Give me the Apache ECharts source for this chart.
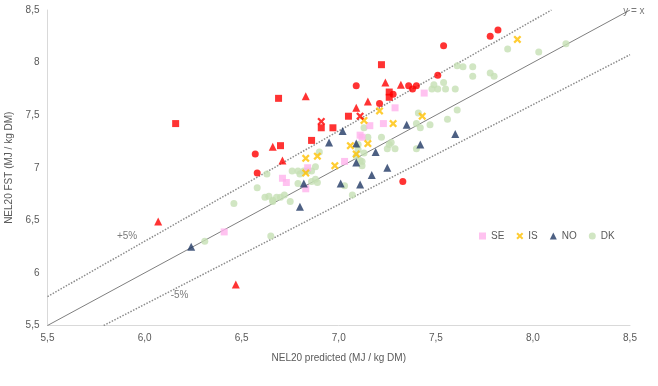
<!DOCTYPE html>
<html><head><meta charset="utf-8">
<script src="https://cdn.jsdelivr.net/npm/echarts@6/dist/echarts.min.js"></script>
<style>html,body{margin:0;padding:0;background:#fff}#c{width:658px;height:386px}</style>
</head><body><div id="c"></div>
<script>
// ---- data (x = NEL20 predicted, y = NEL20 FST) ----
const seData = [[6.41,6.39],[7.44,7.71],[7.29,7.57],[7.16,7.40],[7.23,7.42],[7.11,7.31],[7.12,7.29],[7.03,7.06],[6.84,7.00],[6.71,6.90],[6.73,6.86],[6.83,6.80]];
const isData = [[7.21,7.54],[7.13,7.45],[7.28,7.42],[7.43,7.49],[7.15,7.23],[7.06,7.21],[7.09,7.13],[6.89,7.11],[6.83,7.09],[6.98,7.02],[6.83,6.95],[7.92,8.22]];
const noData = [[6.24,6.25],[7.02,7.35],[6.95,7.24],[7.19,7.15],[7.09,7.23],[7.09,7.05],[7.25,7.00],[7.35,7.41],[7.42,7.22],[7.60,7.32],[7.17,6.93],[7.01,6.85],[7.11,6.84],[6.82,6.85],[6.80,6.63]];
const dkData = [[6.31,6.30],[6.46,6.66],[6.58,6.81],[6.63,6.94],[6.65,6.35],[6.62,6.72],[6.64,6.73],[6.66,6.69],[6.68,6.72],[6.70,6.72],[6.72,6.74],[6.66,6.68],[6.75,6.68],[6.76,6.97],[6.79,6.97],[6.80,6.94],[6.82,6.97],[6.84,6.97],[6.86,6.97],[6.88,7.01],[6.90,7.15],[6.79,6.85],[6.86,6.87],[6.88,6.89],[6.89,6.86],[7.03,6.83],[7.07,6.74],[7.12,7.06],[7.10,7.22],[7.10,7.17],[7.09,7.11],[7.11,7.07],[7.13,7.14],[7.12,7.02],[7.15,7.29],[7.22,7.29],[7.27,7.24],[7.26,7.22],[7.25,7.18],[7.29,7.18],[7.40,7.18],[7.13,7.38],[7.41,7.52],[7.40,7.42],[7.42,7.38],[7.47,7.41],[7.56,7.46],[7.61,7.55],[7.54,7.81],[7.49,7.79],[7.48,7.75],[7.51,7.75],[7.55,7.75],[7.60,7.75],[7.61,7.97],[7.64,7.96],[7.69,7.96],[7.69,7.87],[7.78,7.90],[7.80,7.87],[7.87,8.13],[8.03,8.10],[8.17,8.18]];
const redCircle = [[6.57,7.13],[6.58,6.95],[7.09,7.78],[7.36,7.78],[7.38,7.75],[7.40,7.78],[7.21,7.61],[7.51,7.88],[7.54,8.16],[7.78,8.25],[7.82,8.31],[7.33,6.87],[7.28,7.70]];
const redSquare = [[6.16,7.42],[6.69,7.66],[7.22,7.98],[7.05,7.49],[6.91,7.38],[6.97,7.38],[6.86,7.26],[6.70,7.21],[7.26,7.72],[7.26,7.67]];
const redTriangle = [[6.07,6.49],[6.47,5.89],[6.83,7.68],[6.66,7.20],[6.71,7.07],[7.24,7.81],[7.32,7.79],[7.15,7.63],[7.09,7.57]];
const redCross = [[6.91,7.44],[7.11,7.49]];
// reference lines
const axisMin = 5.5, axisMax = 8.5;
const lineYX = [[5.5,5.5],[8.5,8.5]];
const linePlus5 = [[5.5,5.5*1.05],[8.5/1.05,8.5]];
const lineMinus5 = [[5.5/0.95,5.5],[8.5,8.5*0.95]];
const tickX = ['5,5','6,0','6,5','7,0','7,5','8,0','8,5'];
const tickY = ['5,5','6','6,5','7','7,5','8','8,5'];
const lineLabels = [{name:'+5%', value:[5.91,6.35]},{name:'-5%', value:[6.18,5.79]},{name:'y = x', value:[8.52,8.49]}];

const crossPath = 'path://M2,0 L5,3 L8,0 L10,2 L7,5 L10,8 L8,10 L5,7 L2,10 L0,8 L3,5 L0,2 Z';
const FONT = 'Liberation Sans';
const chart = echarts.init(document.getElementById('c'), null, {renderer:'canvas'});
function fmtIdx(arr){ return v => { const i = Math.round((v-axisMin)/0.5); return arr[i] !== undefined ? arr[i] : ''; }; }
const opt = {
  animation:false,
  textStyle:{fontFamily:FONT},
  grid:{left:47.5, right:28, top:10, bottom:60.5, containLabel:false, outerBoundsMode:'none'},
  legend:{
    data:['SE','IS','NO','DK'],
    left:474, top:226, itemWidth:7, itemHeight:7, itemGap:12,
    textStyle:{fontSize:10, color:'#595959', fontFamily:FONT}
  },
  xAxis:{type:'value', min:axisMin, max:axisMax, interval:0.5,
    name:'NEL20 predicted (MJ / kg DM)', nameLocation:'middle', nameGap:28,
    nameTextStyle:{fontSize:10, color:'#595959'},
    axisLine:{show:true, lineStyle:{color:'#D9D9D9', width:1}},
    axisTick:{show:false}, splitLine:{show:false},
    axisLabel:{fontSize:10, color:'#595959', formatter:fmtIdx(tickX), margin:8}},
  yAxis:{type:'value', min:axisMin, max:axisMax, interval:0.5,
    name:'NEL20 FST (MJ / kg DM)', nameLocation:'middle', nameGap:31,
    nameTextStyle:{fontSize:10, color:'#595959'},
    axisLine:{show:true, lineStyle:{color:'#D9D9D9', width:1}},
    axisTick:{show:false}, splitLine:{show:false},
    axisLabel:{fontSize:10, color:'#595959', formatter:fmtIdx(tickY), margin:8}},
  series:[
    {type:'line', data:lineYX, symbol:'none', lineStyle:{color:'#7F7F7F', width:1}, silent:true, z:1},
    {type:'line', data:linePlus5, symbol:'none', lineStyle:{color:'#8C8C8C', width:1.5, type:[1.5,1.5]}, silent:true, z:1},
    {type:'line', data:lineMinus5, symbol:'none', lineStyle:{color:'#8C8C8C', width:1.5, type:[1.5,1.5]}, silent:true, z:1},
    {name:'DK', type:'scatter', data:dkData, symbol:'circle', symbolSize:7, itemStyle:{color:'#C5E0B4'}, z:2},
    {name:'SE', type:'scatter', data:seData, symbol:'rect', symbolSize:7, itemStyle:{color:'#FFB3EC'}, z:3},
    {name:'NO', type:'scatter', data:noData, symbol:'triangle', symbolSize:8, itemStyle:{color:'#203864'}, z:3},
    {name:'IS', type:'scatter', data:isData, symbol:crossPath, symbolSize:8, itemStyle:{color:'#FFC000'}, z:4},
    {name:'r1', type:'scatter', data:redCircle, symbol:'circle', symbolSize:7, itemStyle:{color:'#FF0000'}, z:5},
    {name:'r2', type:'scatter', data:redSquare, symbol:'rect', symbolSize:7, itemStyle:{color:'#FF0000'}, z:5},
    {name:'r3', type:'scatter', data:redTriangle, symbol:'triangle', symbolSize:8, itemStyle:{color:'#FF0000'}, z:5},
    {name:'r4', type:'scatter', data:redCross, symbol:crossPath, symbolSize:8, itemStyle:{color:'#FF0000'}, z:5},
    {name:'labels', type:'scatter', data:lineLabels, symbolSize:1, clip:false, itemStyle:{color:'rgba(0,0,0,0)'}, silent:true, z:6,
      label:{show:true, position:'inside', formatter:p=>p.name, fontSize:10, color:'#595959', fontFamily:FONT}}
  ]
};
chart.setOption(opt);
</script></body></html>
